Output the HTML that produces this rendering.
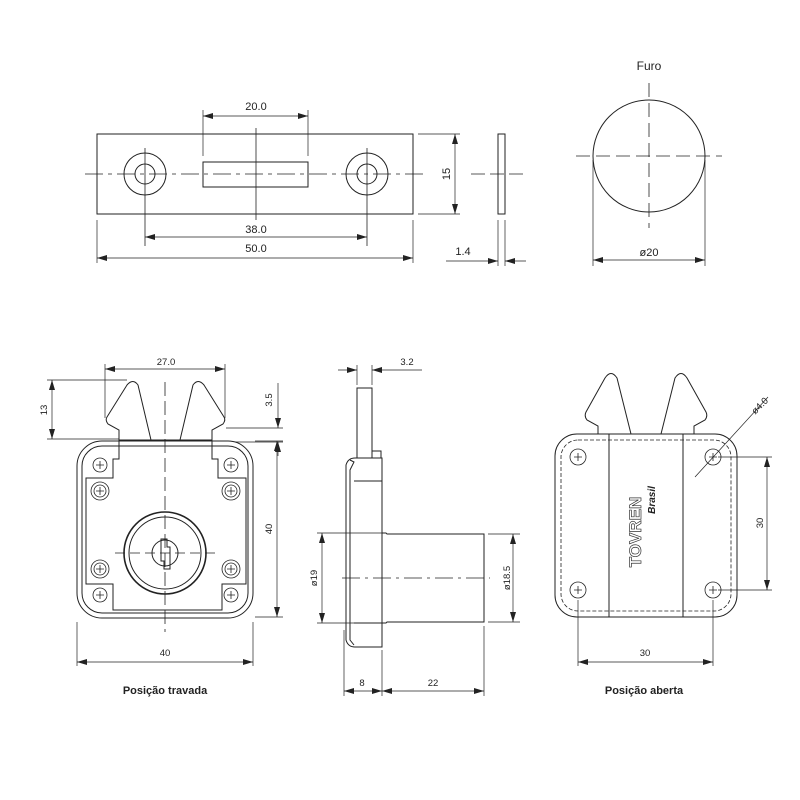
<!DOCTYPE html>
<html><head><meta charset="utf-8"><style>
html,body{margin:0;padding:0;background:#fff}
svg{display:block}
text{font-family:"Liberation Sans",sans-serif;fill:#222}
</style></head><body>
<svg width="800" height="800" viewBox="0 0 800 800" xmlns="http://www.w3.org/2000/svg">
<defs>
<marker id="a" viewBox="0 0 10 6" refX="10" refY="3" markerWidth="10" markerHeight="6" orient="auto-start-reverse" markerUnits="userSpaceOnUse"><path d="M0,0 L10,3 L0,6z" fill="#222"/></marker>
</defs>
<g fill="none" stroke="#222" stroke-width="1">
<!-- TOP PLATE -->
<rect x="97" y="134" width="316" height="80"/>
<rect x="203" y="162" width="105" height="25"/>
<circle cx="145" cy="174" r="21"/><circle cx="145" cy="174" r="10"/>
<circle cx="367" cy="174" r="21"/><circle cx="367" cy="174" r="10"/>
<line x1="85" y1="174" x2="425" y2="174" stroke-dasharray="18,5,4,5" stroke-width="0.8"/>
<line x1="145" y1="148" x2="145" y2="246" stroke-width="0.8"/>
<line x1="367" y1="148" x2="367" y2="246" stroke-width="0.8"/>
<line x1="256" y1="128" x2="256" y2="220" stroke-width="0.8"/>
<line x1="203" y1="110" x2="203" y2="156" stroke-width="0.7"/>
<line x1="308" y1="110" x2="308" y2="156" stroke-width="0.7"/>
<line x1="203" y1="116" x2="308" y2="116" stroke-width="0.7" marker-start="url(#a)" marker-end="url(#a)"/>
<line x1="145" y1="237" x2="367" y2="237" stroke-width="0.7" marker-start="url(#a)" marker-end="url(#a)"/>
<line x1="97" y1="220" x2="97" y2="263" stroke-width="0.7"/>
<line x1="413" y1="220" x2="413" y2="263" stroke-width="0.7"/>
<line x1="97" y1="258" x2="413" y2="258" stroke-width="0.7" marker-start="url(#a)" marker-end="url(#a)"/>
<line x1="418" y1="134" x2="460" y2="134" stroke-width="0.7"/>
<line x1="418" y1="214" x2="460" y2="214" stroke-width="0.7"/>
<line x1="455" y1="134" x2="455" y2="214" stroke-width="0.7" marker-start="url(#a)" marker-end="url(#a)"/>
<rect x="498" y="134" width="7" height="80"/>
<line x1="471" y1="174" x2="528" y2="174" stroke-dasharray="14,5" stroke-width="0.8"/>
<line x1="498" y1="220" x2="498" y2="266" stroke-width="0.7"/>
<line x1="505" y1="220" x2="505" y2="266" stroke-width="0.7"/>
<line x1="446" y1="261" x2="498" y2="261" stroke-width="0.7" marker-end="url(#a)"/>
<line x1="526" y1="261" x2="505" y2="261" stroke-width="0.7" marker-end="url(#a)"/>
<!-- FURO -->
<circle cx="649" cy="156" r="56"/>
<line x1="576" y1="156" x2="722" y2="156" stroke-dasharray="14,6" stroke-width="0.8"/>
<line x1="649" y1="83" x2="649" y2="228" stroke-dasharray="14,6" stroke-width="0.8"/>
<line x1="593" y1="160" x2="593" y2="266" stroke-width="0.7"/>
<line x1="705" y1="160" x2="705" y2="266" stroke-width="0.7"/>
<line x1="593" y1="260" x2="705" y2="260" stroke-width="0.7" marker-start="url(#a)" marker-end="url(#a)"/>

<!-- LEFT VIEW -->
<path d="M119,440 L119,430 L108,424 Q105,420 107,417 L127,385 Q133,378 138,385 L151,440"/>
<path d="M212,440 L212,430 L223,424 Q226,420 224,417 L204,385 Q198,378 193,385 L180,440"/>
<rect x="77" y="441" width="176" height="177" rx="25"/>
<rect x="82" y="446" width="166" height="167" rx="20"/>
<path d="M119,440 L119,459 L113,459 L113,478 L86,478 L86,584 L113,584 L113,610 L222,610 L222,584 L246,584 L246,478 L218,478 L218,459 L212,459 L212,440 Z"/>
<circle cx="165" cy="553" r="41" stroke-width="1.6"/>
<circle cx="165" cy="553" r="36"/>
<circle cx="165" cy="553" r="13"/>
<path d="M161,539 L167,539 L167,547 L170,547 L170,569 L164,569 L164,561 L161,561 Z"/>
<g stroke-width="0.8">
<circle cx="100" cy="465" r="7"/><path d="M96,465h8M100,461v8"/>
<circle cx="231" cy="465" r="7"/><path d="M227,465h8M231,461v8"/>
<circle cx="100" cy="491" r="9"/><circle cx="100" cy="491" r="6"/><path d="M96,491h8M100,487v8"/>
<circle cx="231" cy="491" r="9"/><circle cx="231" cy="491" r="6"/><path d="M227,491h8M231,487v8"/>
<circle cx="100" cy="569" r="9"/><circle cx="100" cy="569" r="6"/><path d="M96,569h8M100,565v8"/>
<circle cx="231" cy="569" r="9"/><circle cx="231" cy="569" r="6"/><path d="M227,569h8M231,565v8"/>
<circle cx="100" cy="595" r="7"/><path d="M96,595h8M100,591v8"/>
<circle cx="231" cy="595" r="7"/><path d="M227,595h8M231,591v8"/>
</g>
<line x1="165" y1="382" x2="165" y2="632" stroke-dasharray="14,5" stroke-width="0.8"/>
<line x1="115" y1="553" x2="215" y2="553" stroke-dasharray="10,5" stroke-width="0.8"/>
<line x1="105" y1="364" x2="105" y2="418" stroke-width="0.7"/>
<line x1="225" y1="364" x2="225" y2="418" stroke-width="0.7"/>
<line x1="105" y1="369" x2="225" y2="369" stroke-width="0.7" marker-start="url(#a)" marker-end="url(#a)"/>
<line x1="47" y1="380" x2="127" y2="380" stroke-width="0.7"/>
<line x1="47" y1="439" x2="119" y2="439" stroke-width="0.7"/>
<line x1="52" y1="380" x2="52" y2="439" stroke-width="0.7" marker-start="url(#a)" marker-end="url(#a)"/>
<line x1="226" y1="428" x2="283" y2="428" stroke-width="0.7"/>
<line x1="235" y1="442" x2="283" y2="442" stroke-width="0.7"/>
<line x1="278" y1="383" x2="278" y2="428" stroke-width="0.7" marker-end="url(#a)"/>
<line x1="278" y1="456" x2="278" y2="442" stroke-width="0.7" marker-end="url(#a)"/>
<line x1="255" y1="441" x2="283" y2="441" stroke-width="0.7"/>
<line x1="255" y1="617" x2="283" y2="617" stroke-width="0.7"/>
<line x1="277" y1="441" x2="277" y2="617" stroke-width="0.7" marker-start="url(#a)" marker-end="url(#a)"/>
<line x1="77" y1="622" x2="77" y2="666" stroke-width="0.7"/>
<line x1="253" y1="622" x2="253" y2="666" stroke-width="0.7"/>
<line x1="77" y1="662" x2="253" y2="662" stroke-width="0.7" marker-start="url(#a)" marker-end="url(#a)"/>

<!-- MIDDLE VIEW -->
<rect x="357" y="388" width="15" height="70"/>
<path d="M372,451 L381,451 L381,458"/>
<path d="M355,458 L382,458 L382,647 L355,647 Q348,647 346,640 L346,465 Q348,458 355,458 Z"/>
<path d="M350,460 L354,462 L350,470 L350,640 L354,645"/>
<line x1="354" y1="481" x2="382" y2="481"/>
<line x1="354" y1="623" x2="382" y2="623"/>
<path d="M382,533 L386,533 L387,534 L484,534 L484,622 L387,622 L386,623 L382,623"/>
<line x1="342" y1="578" x2="490" y2="578" stroke-dasharray="18,5,3,5" stroke-width="0.8"/>
<line x1="337" y1="367" x2="421" y2="367" stroke-width="0" />
<line x1="357" y1="365" x2="357" y2="385" stroke-width="0.7"/>
<line x1="372" y1="365" x2="372" y2="385" stroke-width="0.7"/>
<line x1="338" y1="370" x2="357" y2="370" stroke-width="0.7" marker-end="url(#a)"/>
<line x1="422" y1="370" x2="372" y2="370" stroke-width="0.7" marker-end="url(#a)"/>
<line x1="317" y1="533" x2="382" y2="533" stroke-width="0.7"/>
<line x1="317" y1="623" x2="382" y2="623" stroke-width="0.7"/>
<line x1="322" y1="533" x2="322" y2="623" stroke-width="0.7" marker-start="url(#a)" marker-end="url(#a)"/>
<line x1="488" y1="534" x2="520" y2="534" stroke-width="0.7"/>
<line x1="488" y1="622" x2="520" y2="622" stroke-width="0.7"/>
<line x1="513" y1="534" x2="513" y2="622" stroke-width="0.7" marker-start="url(#a)" marker-end="url(#a)"/>
<line x1="344" y1="630" x2="344" y2="696" stroke-width="0.7"/>
<line x1="382" y1="650" x2="382" y2="696" stroke-width="0.7"/>
<line x1="484" y1="626" x2="484" y2="696" stroke-width="0.7"/>
<line x1="344" y1="691" x2="382" y2="691" stroke-width="0.7" marker-start="url(#a)" marker-end="url(#a)"/>
<line x1="382" y1="691" x2="484" y2="691" stroke-width="0.7" marker-start="url(#a)" marker-end="url(#a)"/>

<!-- RIGHT VIEW -->
<path d="M598,434 L598,426 L587,420 Q584,416 586,412 L605,378 Q611,369 617,378 L631,434"/>
<path d="M694,434 L694,426 L705,420 Q708,416 706,412 L687,378 Q681,369 675,378 L661,434"/>
<rect x="555" y="434" width="182" height="183" rx="22"/>
<rect x="561" y="440" width="170" height="171" rx="17" stroke-dasharray="4,2" stroke-width="0.8"/>
<line x1="609" y1="434" x2="609" y2="617"/>
<line x1="683" y1="434" x2="683" y2="617"/>
<g stroke-width="0.8">
<circle cx="578" cy="457" r="8"/><path d="M574,457h8M578,453v8"/>
<circle cx="713" cy="457" r="8"/><path d="M709,457h8M713,453v8"/>
<circle cx="578" cy="590" r="8"/><path d="M574,590h8M578,586v8"/>
<circle cx="713" cy="590" r="8"/><path d="M709,590h8M713,586v8"/>
</g>
<line x1="695" y1="477" x2="768" y2="397" stroke-width="0.7"/>
<line x1="718" y1="457" x2="772" y2="457" stroke-width="0.7"/>
<line x1="718" y1="590" x2="772" y2="590" stroke-width="0.7"/>
<line x1="767" y1="457" x2="767" y2="590" stroke-width="0.7" marker-start="url(#a)" marker-end="url(#a)"/>
<line x1="578" y1="600" x2="578" y2="666" stroke-width="0.7"/>
<line x1="713" y1="600" x2="713" y2="666" stroke-width="0.7"/>
<line x1="578" y1="662" x2="713" y2="662" stroke-width="0.7" marker-start="url(#a)" marker-end="url(#a)"/>
</g>
<g font-size="11">
<text x="256" y="110" text-anchor="middle">20.0</text>
<text x="256" y="233" text-anchor="middle">38.0</text>
<text x="256" y="252" text-anchor="middle">50.0</text>
<text transform="translate(450,174) rotate(-90)" text-anchor="middle">15</text>
<text x="463" y="255" text-anchor="middle">1.4</text>
<text x="649" y="70" text-anchor="middle" font-size="12">Furo</text>
<text x="649" y="256" text-anchor="middle">ø20</text>
</g>
<g font-size="9.5">
<text x="166" y="365" text-anchor="middle">27.0</text>
<text transform="translate(47,410) rotate(-90)" text-anchor="middle">13</text>
<text transform="translate(272,400) rotate(-90)" text-anchor="middle">3.5</text>
<text transform="translate(272,529) rotate(-90)" text-anchor="middle">40</text>
<text x="165" y="656" text-anchor="middle">40</text>
<text x="407" y="365" text-anchor="middle">3.2</text>
<text transform="translate(317,578) rotate(-90)" text-anchor="middle">ø19</text>
<text transform="translate(510,578) rotate(-90)" text-anchor="middle">ø18.5</text>
<text x="362" y="686" text-anchor="middle">8</text>
<text x="433" y="686" text-anchor="middle">22</text>
<text transform="translate(762,408) rotate(-45)" text-anchor="middle">ø4.0</text>
<text transform="translate(763,523) rotate(-90)" text-anchor="middle">30</text>
<text x="645" y="656" text-anchor="middle">30</text>
</g>
<text transform="translate(641,532) rotate(-90)" text-anchor="middle" font-size="17" font-weight="bold" fill="none" stroke="#333" stroke-width="0.7" style="fill:#fff">TOVREN</text>
<text transform="translate(655,500) rotate(-90)" text-anchor="middle" font-size="10" font-weight="bold" font-style="italic">Brasil</text>
<text x="165" y="694" text-anchor="middle" font-size="11" font-weight="bold">Posição travada</text>
<text x="644" y="694" text-anchor="middle" font-size="11" font-weight="bold">Posição aberta</text>
</svg>
</body></html>
